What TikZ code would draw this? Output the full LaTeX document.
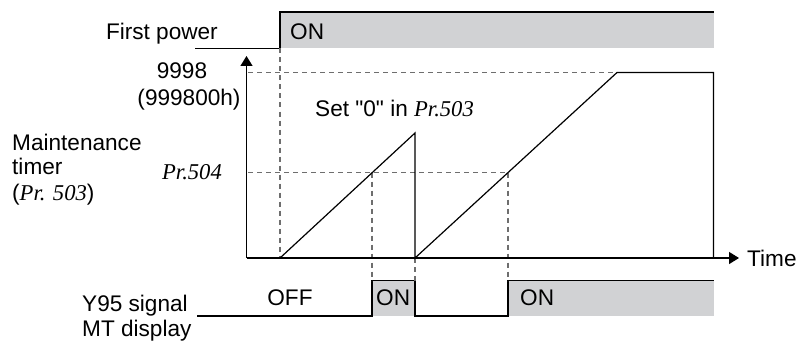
\documentclass[tikz,border=0pt]{standalone}
\usepackage{fontspec}
\setmainfont{Liberation Sans}
\newfontfamily\qfont{Liberation Sans}
\newfontfamily\tms{Liberation Serif}
\usetikzlibrary{arrows.meta}
\definecolor{fillgray}{HTML}{D1D2D4}
\definecolor{dashgray}{HTML}{6E6E6E}
\begin{document}
\begin{tikzpicture}[x=1pt,y=-1pt,
  line/.style={line width=1.3pt,black},
  dsh/.style={line width=1.2pt,dashgray,dash pattern=on 5pt off 4pt},
  lbl/.style={inner sep=0pt,anchor=base west,font=\fontsize{22.6}{26}\selectfont},
  lblc/.style={lbl,anchor=base},
  lble/.style={lbl,anchor=base east},
  axis/.style={line width=1.3pt,-{Triangle[length=10pt,width=12pt]}}]
\useasboundingbox (0,0) rectangle (799,342);
% coordinates
\coordinate (o) at (246.5,258);
\coordinate (ytip) at (246.5,56);
\coordinate (xtip) at (739,258);
\coordinate (s0) at (280,258);
\coordinate (pk) at (415,133);
\coordinate (s1) at (415,258);
\coordinate (pl) at (617,72.5);
\coordinate (pr) at (713.5,72.5);
\coordinate (pe) at (713.5,258);
\coordinate (c1) at (372,172.5);
\coordinate (c2) at (508,172.5);
% first power
\fill[fillgray] (280,12) rectangle (713.5,48.5);
\draw[line] (195,48.5) -- (280,48.5) -- (280,12) -- (713.5,12);
% Y95
\fill[fillgray] (372,280.5) rectangle (415,316);
\fill[fillgray] (508,280.5) rectangle (713.5,316);
\draw[line] (197,316) -- (372,316) -- (372,280.5) -- (415,280.5) -- (415,316) -- (508,316) -- (508,280.5) -- (713.5,280.5);
% dashed guides
\draw[dsh] (248,72.5) -- (pl);
\draw[dsh] (248,172.5) -- (c2);
\draw[dsh] (280,48.5) -- (s0);
\draw[dsh] (c1) -- (372,280.5);
\draw[dsh] (s1) -- (415,280.5);
\draw[dsh] (c2) -- (508,280.5);
% axes
\draw[axis] (o) -- (ytip);
\draw[axis] (o) -- (xtip);
% curve
\draw[line,line width=1.2pt] (s0) -- (pk) -- (s1) -- (pl) -- (pr) -- (pe);
% texts
\node[lble] (fp) at (218,39.5) {First power};
\node[lbl] (on1) at (290,39.5) {ON};
\node[lblc] (n9998) at (182,78.5) {9998};
\node[lblc] (n9998h) at (189,106) {(999800h)};
\node[lbl] (mt1) at (12,150) {Maintenance};
\node[lbl] (mt2) at (12,174) {timer};
\node[lbl] (mt3) at (12,200.5) {({\tms\itshape Pr. 503})};
\node[lble] (pr504) at (222,179) {\tms\itshape Pr.504};
\node[lbl] (set0) at (315,117) {Set {\qfont"0"} in {\tms\itshape Pr.503}};
\node[lbl] (time) at (747,266) {Time};
\node[lblc] (off) at (290,305.5) {OFF};
\node[lbl] (on2) at (376,305.5) {ON};
\node[lbl] (on3) at (520,305.5) {ON};
\node[lbl] (y95) at (82,311) {Y95 signal};
\node[lbl] (mtd) at (82,336.5) {MT display};
\end{tikzpicture}
\end{document}
